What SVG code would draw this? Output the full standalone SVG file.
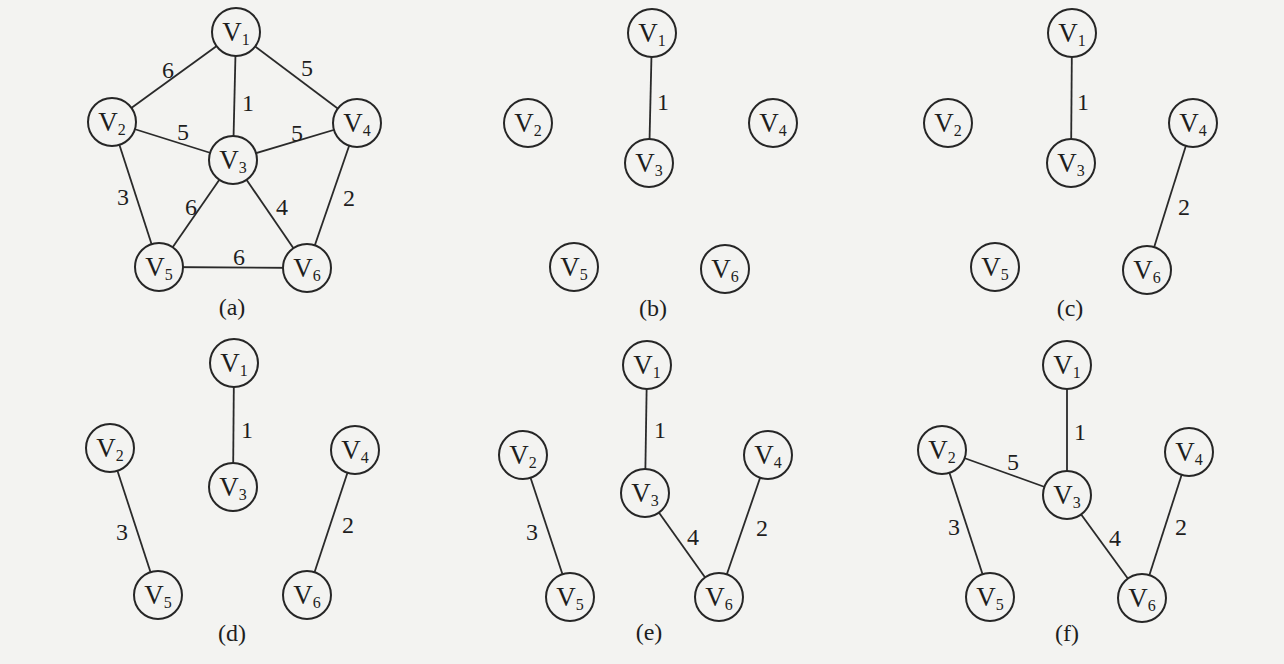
<svg xmlns="http://www.w3.org/2000/svg" width="1284" height="664" viewBox="0 0 1284 664">
<style>
.bg{fill:#f3f3f1}
.e{stroke:#2a2a2a;stroke-width:1.8;fill:none}
.n circle{fill:#f3f3f1;stroke:#262626;stroke-width:2}
.n text{font-family:"Liberation Serif","Times New Roman",serif;font-size:27px;fill:#1e1e1e;text-anchor:middle}
.n tspan{font-size:16px}
.w{font-family:"Liberation Serif","Times New Roman",serif;font-size:24px;fill:#1e1e1e;text-anchor:middle}
.cap{font-family:"Liberation Serif","Times New Roman",serif;font-size:24px;fill:#1e1e1e;text-anchor:middle}
</style>
<rect class="bg" x="0" y="0" width="1284" height="664"/>

<!-- Panel (a) -->
<g id="panel-a">
<g id="a-edges">
<line class="e" x1="236" y1="32" x2="112" y2="122"/>
<line class="e" x1="236" y1="32" x2="233" y2="160"/>
<line class="e" x1="236" y1="32" x2="357" y2="123"/>
<line class="e" x1="112" y1="122" x2="233" y2="160"/>
<line class="e" x1="233" y1="160" x2="357" y2="123"/>
<line class="e" x1="112" y1="122" x2="159" y2="267"/>
<line class="e" x1="233" y1="160" x2="159" y2="267"/>
<line class="e" x1="233" y1="160" x2="307" y2="268"/>
<line class="e" x1="357" y1="123" x2="307" y2="268"/>
<line class="e" x1="159" y1="267" x2="307" y2="268"/>
<text class="w" x="168" y="78">6</text>
<text class="w" x="248" y="111">1</text>
<text class="w" x="307" y="76">5</text>
<text class="w" x="183" y="140">5</text>
<text class="w" x="297" y="141">5</text>
<text class="w" x="123" y="205">3</text>
<text class="w" x="191" y="215">6</text>
<text class="w" x="282" y="215">4</text>
<text class="w" x="349" y="206">2</text>
<text class="w" x="239" y="265">6</text>
</g>
<g id="a-v1" class="n"><circle cx="236" cy="32" r="24"/><text x="236" y="41">V<tspan dy="4">1</tspan></text></g>
<g id="a-v2" class="n"><circle cx="112" cy="122" r="24"/><text x="112" y="131">V<tspan dy="4">2</tspan></text></g>
<g id="a-v3" class="n"><circle cx="233" cy="160" r="24"/><text x="233" y="169">V<tspan dy="4">3</tspan></text></g>
<g id="a-v4" class="n"><circle cx="357" cy="123" r="24"/><text x="357" y="132">V<tspan dy="4">4</tspan></text></g>
<g id="a-v5" class="n"><circle cx="159" cy="267" r="24"/><text x="159" y="276">V<tspan dy="4">5</tspan></text></g>
<g id="a-v6" class="n"><circle cx="307" cy="268" r="24"/><text x="307" y="277">V<tspan dy="4">6</tspan></text></g>
<text class="cap" x="232" y="315">(a)</text>
</g>

<!-- Panel (b) -->
<g id="panel-b">
<g id="b-edges">
<line class="e" x1="652" y1="33" x2="649" y2="163"/>
<text class="w" x="663" y="110">1</text>
</g>
<g id="b-v1" class="n"><circle cx="652" cy="33" r="24"/><text x="652" y="42">V<tspan dy="4">1</tspan></text></g>
<g id="b-v2" class="n"><circle cx="528" cy="123" r="24"/><text x="528" y="132">V<tspan dy="4">2</tspan></text></g>
<g id="b-v3" class="n"><circle cx="649" cy="163" r="24"/><text x="649" y="172">V<tspan dy="4">3</tspan></text></g>
<g id="b-v4" class="n"><circle cx="773" cy="123" r="24"/><text x="773" y="132">V<tspan dy="4">4</tspan></text></g>
<g id="b-v5" class="n"><circle cx="574" cy="267" r="24"/><text x="574" y="276">V<tspan dy="4">5</tspan></text></g>
<g id="b-v6" class="n"><circle cx="725" cy="269" r="24"/><text x="725" y="278">V<tspan dy="4">6</tspan></text></g>
<text class="cap" x="653" y="316">(b)</text>
</g>

<!-- Panel (c) -->
<g id="panel-c">
<g id="c-edges">
<line class="e" x1="1072" y1="33" x2="1071" y2="163"/>
<line class="e" x1="1193" y1="123" x2="1147" y2="270"/>
<text class="w" x="1083" y="110">1</text>
<text class="w" x="1184" y="215">2</text>
</g>
<g id="c-v1" class="n"><circle cx="1072" cy="33" r="24"/><text x="1072" y="42">V<tspan dy="4">1</tspan></text></g>
<g id="c-v2" class="n"><circle cx="948" cy="123" r="24"/><text x="948" y="132">V<tspan dy="4">2</tspan></text></g>
<g id="c-v3" class="n"><circle cx="1071" cy="163" r="24"/><text x="1071" y="172">V<tspan dy="4">3</tspan></text></g>
<g id="c-v4" class="n"><circle cx="1193" cy="123" r="24"/><text x="1193" y="132">V<tspan dy="4">4</tspan></text></g>
<g id="c-v5" class="n"><circle cx="995" cy="267" r="24"/><text x="995" y="276">V<tspan dy="4">5</tspan></text></g>
<g id="c-v6" class="n"><circle cx="1147" cy="270" r="24"/><text x="1147" y="279">V<tspan dy="4">6</tspan></text></g>
<text class="cap" x="1070" y="316">(c)</text>
</g>

<!-- Panel (d) -->
<g id="panel-d">
<g id="d-edges">
<line class="e" x1="234" y1="363" x2="233" y2="487"/>
<line class="e" x1="110" y1="448" x2="158" y2="595"/>
<line class="e" x1="355" y1="450" x2="307" y2="595"/>
<text class="w" x="247" y="438">1</text>
<text class="w" x="122" y="540">3</text>
<text class="w" x="348" y="533">2</text>
</g>
<g id="d-v1" class="n"><circle cx="234" cy="363" r="24"/><text x="234" y="372">V<tspan dy="4">1</tspan></text></g>
<g id="d-v2" class="n"><circle cx="110" cy="448" r="24"/><text x="110" y="457">V<tspan dy="4">2</tspan></text></g>
<g id="d-v3" class="n"><circle cx="233" cy="487" r="24"/><text x="233" y="496">V<tspan dy="4">3</tspan></text></g>
<g id="d-v4" class="n"><circle cx="355" cy="450" r="24"/><text x="355" y="459">V<tspan dy="4">4</tspan></text></g>
<g id="d-v5" class="n"><circle cx="158" cy="595" r="24"/><text x="158" y="604">V<tspan dy="4">5</tspan></text></g>
<g id="d-v6" class="n"><circle cx="307" cy="595" r="24"/><text x="307" y="604">V<tspan dy="4">6</tspan></text></g>
<text class="cap" x="232" y="641">(d)</text>
</g>

<!-- Panel (e) -->
<g id="panel-e">
<g id="e-edges">
<line class="e" x1="647" y1="365" x2="645" y2="493"/>
<line class="e" x1="523" y1="455" x2="570" y2="597"/>
<line class="e" x1="645" y1="493" x2="719" y2="597"/>
<line class="e" x1="768" y1="455" x2="719" y2="597"/>
<text class="w" x="660" y="438">1</text>
<text class="w" x="532" y="540">3</text>
<text class="w" x="693" y="545">4</text>
<text class="w" x="762" y="536">2</text>
</g>
<g id="e-v1" class="n"><circle cx="647" cy="365" r="24"/><text x="647" y="374">V<tspan dy="4">1</tspan></text></g>
<g id="e-v2" class="n"><circle cx="523" cy="455" r="24"/><text x="523" y="464">V<tspan dy="4">2</tspan></text></g>
<g id="e-v3" class="n"><circle cx="645" cy="493" r="24"/><text x="645" y="502">V<tspan dy="4">3</tspan></text></g>
<g id="e-v4" class="n"><circle cx="768" cy="455" r="24"/><text x="768" y="464">V<tspan dy="4">4</tspan></text></g>
<g id="e-v5" class="n"><circle cx="570" cy="597" r="24"/><text x="570" y="606">V<tspan dy="4">5</tspan></text></g>
<g id="e-v6" class="n"><circle cx="719" cy="597" r="24"/><text x="719" y="606">V<tspan dy="4">6</tspan></text></g>
<text class="cap" x="649" y="640">(e)</text>
</g>

<!-- Panel (f) -->
<g id="panel-f">
<g id="f-edges">
<line class="e" x1="1067" y1="365" x2="1067" y2="495"/>
<line class="e" x1="942" y1="450" x2="1067" y2="495"/>
<line class="e" x1="942" y1="450" x2="990" y2="597"/>
<line class="e" x1="1067" y1="495" x2="1142" y2="598"/>
<line class="e" x1="1189" y1="452" x2="1142" y2="598"/>
<text class="w" x="1080" y="440">1</text>
<text class="w" x="1013" y="470">5</text>
<text class="w" x="954" y="535">3</text>
<text class="w" x="1115" y="546">4</text>
<text class="w" x="1181" y="535">2</text>
</g>
<g id="f-v1" class="n"><circle cx="1067" cy="365" r="24"/><text x="1067" y="374">V<tspan dy="4">1</tspan></text></g>
<g id="f-v2" class="n"><circle cx="942" cy="450" r="24"/><text x="942" y="459">V<tspan dy="4">2</tspan></text></g>
<g id="f-v3" class="n"><circle cx="1067" cy="495" r="24"/><text x="1067" y="504">V<tspan dy="4">3</tspan></text></g>
<g id="f-v4" class="n"><circle cx="1189" cy="452" r="24"/><text x="1189" y="461">V<tspan dy="4">4</tspan></text></g>
<g id="f-v5" class="n"><circle cx="990" cy="597" r="24"/><text x="990" y="606">V<tspan dy="4">5</tspan></text></g>
<g id="f-v6" class="n"><circle cx="1142" cy="598" r="24"/><text x="1142" y="607">V<tspan dy="4">6</tspan></text></g>
<text class="cap" x="1067" y="641">(f)</text>
</g>
</svg>
